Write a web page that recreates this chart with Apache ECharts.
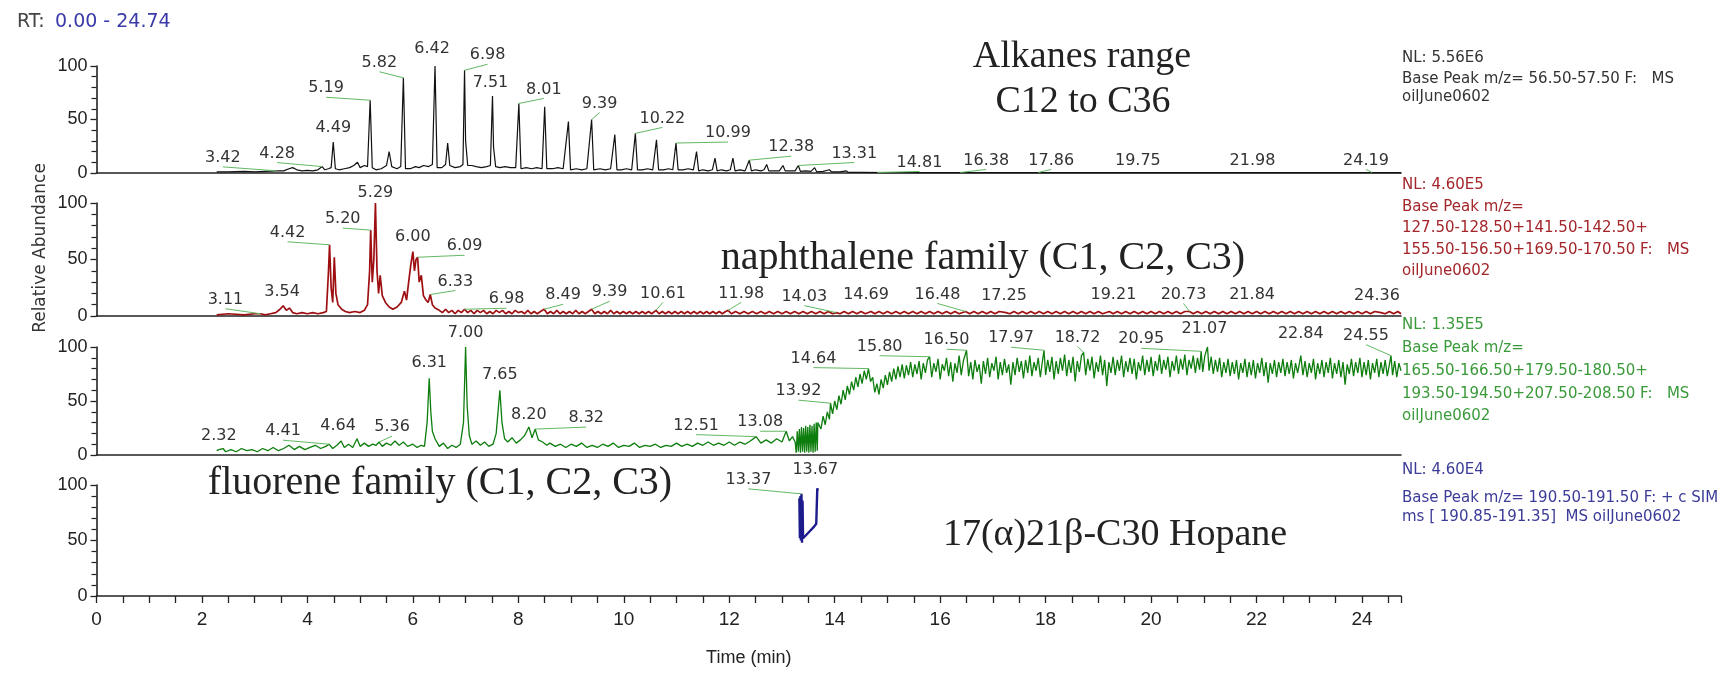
<!DOCTYPE html>
<html><head><meta charset="utf-8">
<script src="https://cdn.jsdelivr.net/npm/echarts@6/dist/echarts.min.js"></script>
<style>html,body{margin:0;padding:0;background:#fff}#c{width:1731px;height:676px}</style>
</head><body><div id="c"></div><script>
// ---------------- DATA ----------------
const timeRange = [0, 24.74];

const alkaneTrace = [[2.28,1],[2.5,1],[2.8,1.5],[3.0,1],[3.2,1.5],[3.42,2],[3.55,2],[3.65,4],[3.72,5],[3.8,3],[3.9,2],[4.0,2.5],[4.1,2],[4.2,3],[4.28,6],[4.33,3],[4.4,4],[4.45,5],[4.49,29],[4.53,4],[4.6,3],[4.7,4],[4.8,5],[4.88,7],[4.95,10],[5.0,5],[5.08,7],[5.14,6],[5.19,68],[5.23,5],[5.3,3],[5.4,4],[5.5,7],[5.55,20],[5.6,6],[5.7,4],[5.77,6],[5.82,89],[5.86,4],[5.95,4],[6.05,6],[6.12,5],[6.2,7],[6.3,6],[6.37,8],[6.42,100],[6.46,5],[6.55,5],[6.62,8],[6.66,28],[6.7,7],[6.8,5],[6.9,6],[6.95,8],[6.98,96],[7.0,30],[7.04,7],[7.12,7],[7.2,6],[7.3,5],[7.4,6],[7.47,7],[7.51,72],[7.53,24],[7.57,6],[7.65,5],[7.75,6],[7.85,5],[7.95,5],[8.01,65],[8.05,4],[8.15,5],[8.25,4],[8.35,5],[8.45,4],[8.50,62],[8.54,4],[8.65,4],[8.75,5],[8.85,4],[8.95,48],[8.99,3],[9.1,4],[9.2,3],[9.3,4],[9.39,50],[9.43,3],[9.55,4],[9.65,3],[9.75,4],[9.83,36],[9.87,3],[9.95,3],[10.05,4],[10.15,3],[10.22,37],[10.26,3],[10.35,3],[10.45,4],[10.55,3],[10.62,31],[10.66,3],[10.75,3],[10.85,4],[10.93,3],[10.99,28],[11.03,3],[11.12,3],[11.22,4],[11.32,3],[11.38,20],[11.42,2],[11.5,3],[11.6,2],[11.68,3],[11.73,14],[11.77,2],[11.85,3],[11.95,2],[12.02,3],[12.07,14],[12.11,2],[12.2,3],[12.3,2],[12.38,12],[12.42,2],[12.5,3],[12.6,2],[12.66,3],[12.71,8],[12.75,2],[12.85,2],[12.95,2],[13.02,7],[13.06,2],[13.15,2],[13.25,2],[13.31,7],[13.35,1.5],[13.45,2],[13.55,1.5],[13.62,5],[13.66,1],[13.78,1.5],[13.9,3],[13.94,1],[14.1,1],[14.22,2],[14.26,0.5],[14.5,0.5],[15.0,0.3],[24.74,0.3]];

const naphthaleneTrace = [[2.28,1],[2.5,2],[2.8,1],[3.0,2],[3.11,2],[3.2,1],[3.3,2],[3.4,3],[3.48,6],[3.54,9],[3.6,5],[3.66,7],[3.72,3],[3.8,2],[3.9,3],[4.0,2],[4.1,3],[4.2,2],[4.3,3],[4.36,4],[4.40,40],[4.42,63],[4.45,25],[4.48,12],[4.51,52],[4.54,20],[4.58,10],[4.65,6],[4.72,4],[4.8,3],[4.9,4],[5.0,3],[5.08,5],[5.14,10],[5.18,40],[5.20,76],[5.23,30],[5.26,50],[5.29,100],[5.32,40],[5.35,20],[5.38,36],[5.42,18],[5.48,12],[5.55,8],[5.62,6],[5.7,8],[5.78,12],[5.84,22],[5.88,14],[5.92,30],[5.96,45],[6.00,57],[6.03,40],[6.06,50],[6.09,52],[6.12,30],[6.16,36],[6.20,18],[6.25,14],[6.29,12],[6.33,19],[6.37,10],[6.42,7],[6.5,5],[6.56,3],[6.62,6],[6.68,3],[6.74,5],[6.8,2],[6.86,5],[6.92,3],[6.98,6],[7.04,3],[7.1,5],[7.16,2],[7.22,5],[7.28,3],[7.34,5],[7.4,2],[7.46,4],[7.52,2],[7.58,5],[7.64,3],[7.7,5],[7.76,2],[7.82,4],[7.88,2],[7.94,5],[8.0,3],[8.06,4],[8.12,2],[8.18,5],[8.24,2],[8.3,4],[8.36,2],[8.42,4],[8.49,6],[8.55,2],[8.61,4],[8.67,2],[8.73,5],[8.79,2],[8.85,4],[8.91,2],[8.97,4],[9.03,2],[9.09,5],[9.15,2],[9.21,4],[9.27,2],[9.33,4],[9.39,6],[9.45,2],[9.51,4],[9.57,2],[9.63,4],[9.69,2],[9.75,5],[9.81,2],[9.87,4],[9.93,2],[9.99,4],[10.05,2],[10.11,4],[10.17,2],[10.23,4],[10.29,2],[10.35,4],[10.41,2],[10.47,4],[10.53,2],[10.61,5],[10.67,2],[10.73,4],[10.79,2],[10.85,4],[10.91,2],[10.97,4],[11.03,2],[11.09,4],[11.15,2],[11.21,4],[11.27,2],[11.33,4],[11.39,2],[11.45,4],[11.51,2],[11.57,4],[11.63,2],[11.69,4],[11.75,2],[11.81,4],[11.87,2],[11.93,4],[11.98,5],[12.04,2],[12.12,4],[12.2,2],[12.28,4],[12.36,2],[12.44,4],[12.52,2],[12.6,4],[12.68,2],[12.76,4],[12.84,2],[12.92,4],[13.0,2],[13.08,4],[13.16,2],[13.24,4],[13.32,2],[13.4,4],[13.48,2],[13.56,4],[13.64,2],[13.72,4],[13.8,2],[13.88,4],[13.96,2],[14.03,3],[14.1,2],[14.18,4],[14.26,2],[14.34,4],[14.42,2],[14.5,4],[14.58,2],[14.69,4],[14.76,2],[14.84,4],[14.92,2],[15.0,4],[15.08,2],[15.16,4],[15.24,2],[15.32,4],[15.4,2],[15.48,4],[15.56,2],[15.64,4],[15.72,2],[15.8,4],[15.88,2],[15.96,4],[16.04,2],[16.12,4],[16.2,2],[16.28,4],[16.36,2],[16.48,4],[16.56,2],[16.64,4],[16.72,2],[16.8,4],[16.88,2],[16.96,4],[17.04,2],[17.12,4],[17.25,3],[17.32,2],[17.4,4],[17.48,2],[17.56,4],[17.64,2],[17.72,4],[17.8,2],[17.88,4],[17.96,2],[18.04,4],[18.12,2],[18.2,4],[18.28,2],[18.36,4],[18.44,2],[18.52,4],[18.6,2],[18.68,4],[18.76,2],[18.84,4],[18.92,2],[19.0,4],[19.08,2],[19.21,4],[19.28,2],[19.36,4],[19.44,2],[19.52,4],[19.6,2],[19.68,4],[19.76,2],[19.84,4],[19.92,2],[20.0,4],[20.08,2],[20.16,4],[20.24,2],[20.32,4],[20.4,2],[20.48,4],[20.56,2],[20.64,4],[20.73,4],[20.8,2],[20.88,4],[20.96,2],[21.04,4],[21.12,2],[21.2,4],[21.28,2],[21.36,4],[21.44,2],[21.52,4],[21.6,2],[21.68,4],[21.76,2],[21.84,4],[21.92,2],[22.0,4],[22.08,2],[22.16,4],[22.24,2],[22.32,4],[22.4,2],[22.48,4],[22.56,2],[22.64,4],[22.72,2],[22.8,4],[22.88,2],[22.96,4],[23.04,2],[23.12,4],[23.2,2],[23.28,4],[23.36,2],[23.44,4],[23.52,2],[23.6,4],[23.68,2],[23.76,4],[23.84,2],[23.92,4],[24.0,2],[24.08,4],[24.16,2],[24.24,4],[24.36,3],[24.44,2],[24.52,4],[24.6,2],[24.68,4],[24.74,2]];

const fluoreneTrace = [[2.28,4],[2.32,5],[2.4,6],[2.45,3],[2.55,5],[2.65,3],[2.75,6],[2.85,4],[2.95,5],[3.05,3],[3.15,6],[3.25,4],[3.35,7],[3.45,4],[3.55,6],[3.65,9],[3.75,5],[3.85,8],[3.95,5],[4.05,7],[4.15,9],[4.25,6],[4.35,8],[4.41,10],[4.48,6],[4.56,9],[4.64,13],[4.70,7],[4.78,10],[4.86,7],[4.94,15],[5.00,8],[5.08,11],[5.16,8],[5.24,10],[5.30,9],[5.36,12],[5.42,8],[5.50,11],[5.58,9],[5.66,13],[5.74,9],[5.82,12],[5.90,8],[6.00,10],[6.08,7],[6.16,9],[6.22,8],[6.27,30],[6.31,71],[6.34,40],[6.37,22],[6.42,15],[6.50,8],[6.58,11],[6.66,6],[6.74,9],[6.82,7],[6.90,10],[6.96,30],[7.00,100],[7.03,45],[7.07,18],[7.12,10],[7.20,13],[7.28,9],[7.36,12],[7.44,8],[7.52,10],[7.58,20],[7.65,60],[7.69,30],[7.74,15],[7.80,12],[7.88,16],[7.96,11],[8.04,14],[8.12,18],[8.20,26],[8.26,16],[8.32,24],[8.38,14],[8.46,12],[8.54,9],[8.6,11],[8.7,8],[8.8,10],[8.9,7],[9.0,10],[9.1,8],[9.2,11],[9.3,7],[9.4,9],[9.5,7],[9.6,10],[9.7,8],[9.8,11],[9.9,7],[10.0,9],[10.1,8],[10.2,11],[10.3,7],[10.4,9],[10.5,8],[10.6,10],[10.7,7],[10.8,9],[10.9,8],[11.0,11],[11.1,8],[11.2,10],[11.3,8],[11.4,11],[11.5,9],[11.6,12],[11.7,9],[11.8,11],[11.9,9],[12.0,12],[12.1,9],[12.2,12],[12.3,10],[12.4,13],[12.51,17],[12.6,11],[12.7,14],[12.8,11],[12.9,15],[13.0,12],[13.08,22],[13.14,13],[13.2,17],[13.25,12],[13.27,2],[13.29,22],[13.31,3],[13.33,24],[13.35,2],[13.37,26],[13.39,3],[13.41,25],[13.43,2],[13.45,27],[13.47,3],[13.49,26],[13.51,2],[13.53,28],[13.55,3],[13.57,27],[13.59,2],[13.61,29],[13.63,3],[13.65,30],[13.67,4],[13.68,30],[13.70,30],[13.74,24],[13.78,36],[13.82,28],[13.86,40],[13.90,33],[13.92,48],[13.96,38],[14.00,50],[14.04,42],[14.08,55],[14.12,47],[14.16,60],[14.20,51],[14.24,64],[14.28,56],[14.32,68],[14.36,60],[14.40,72],[14.44,63],[14.48,75],[14.52,66],[14.56,78],[14.60,70],[14.64,80],[14.68,68],[14.72,72],[14.76,58],[14.80,66],[14.84,56],[14.88,70],[14.92,62],[14.96,74],[15.00,65],[15.04,77],[15.08,68],[15.12,80],[15.16,70],[15.20,82],[15.24,72],[15.28,84],[15.32,71],[15.36,83],[15.40,74],[15.44,86],[15.48,72],[15.52,84],[15.56,75],[15.60,87],[15.64,70],[15.68,85],[15.72,76],[15.76,88],[15.80,91],[15.84,72],[15.88,85],[15.92,77],[15.96,89],[16.00,70],[16.04,84],[16.08,78],[16.12,90],[16.16,73],[16.20,86],[16.24,68],[16.28,85],[16.32,76],[16.36,92],[16.40,74],[16.44,87],[16.50,97],[16.54,73],[16.58,86],[16.62,70],[16.66,88],[16.70,77],[16.74,84],[16.78,66],[16.82,87],[16.86,75],[16.90,90],[16.94,72],[16.98,85],[17.02,78],[17.06,91],[17.10,70],[17.14,86],[17.18,74],[17.22,89],[17.26,76],[17.30,84],[17.34,65],[17.38,86],[17.42,74],[17.46,90],[17.50,77],[17.54,87],[17.58,71],[17.62,88],[17.66,76],[17.70,92],[17.74,73],[17.78,86],[17.82,78],[17.86,90],[17.90,72],[17.94,87],[17.97,97],[18.00,74],[18.04,88],[18.08,77],[18.12,91],[18.16,70],[18.20,87],[18.24,75],[18.28,90],[18.32,78],[18.36,93],[18.40,73],[18.44,88],[18.48,76],[18.52,91],[18.56,68],[18.60,87],[18.64,77],[18.68,92],[18.72,95],[18.76,74],[18.80,89],[18.84,78],[18.88,91],[18.92,71],[18.96,86],[19.00,77],[19.04,92],[19.08,74],[19.12,88],[19.16,64],[19.20,86],[19.24,76],[19.28,91],[19.32,74],[19.36,88],[19.40,78],[19.44,92],[19.48,72],[19.52,87],[19.56,77],[19.60,90],[19.64,75],[19.68,89],[19.72,70],[19.76,86],[19.80,78],[19.84,92],[19.88,74],[19.92,88],[19.96,77],[20.00,91],[20.04,73],[20.08,87],[20.12,78],[20.16,93],[20.20,75],[20.24,88],[20.28,79],[20.32,91],[20.36,72],[20.40,87],[20.44,78],[20.48,92],[20.52,75],[20.56,89],[20.60,79],[20.64,93],[20.68,74],[20.72,88],[20.76,80],[20.80,92],[20.84,76],[20.88,90],[20.92,79],[20.95,96],[20.98,77],[21.02,92],[21.07,100],[21.10,78],[21.14,91],[21.18,75],[21.22,88],[21.26,77],[21.30,90],[21.34,72],[21.38,86],[21.42,76],[21.46,89],[21.50,73],[21.54,86],[21.58,75],[21.62,88],[21.66,70],[21.70,85],[21.74,76],[21.78,89],[21.82,72],[21.86,86],[21.90,74],[21.94,88],[21.98,71],[22.02,85],[22.06,76],[22.10,90],[22.14,73],[22.18,86],[22.22,67],[22.26,85],[22.30,75],[22.34,88],[22.38,72],[22.42,86],[22.46,76],[22.50,89],[22.54,73],[22.58,86],[22.62,75],[22.66,88],[22.70,71],[22.74,85],[22.78,76],[22.84,92],[22.88,74],[22.92,87],[22.96,72],[23.00,85],[23.04,76],[23.08,89],[23.12,70],[23.16,85],[23.20,75],[23.24,88],[23.28,72],[23.32,86],[23.36,76],[23.40,90],[23.44,71],[23.48,85],[23.52,75],[23.56,88],[23.60,72],[23.64,86],[23.68,65],[23.72,84],[23.76,75],[23.80,89],[23.84,73],[23.88,86],[23.92,76],[23.96,90],[24.00,72],[24.04,86],[24.08,74],[24.12,88],[24.16,70],[24.20,85],[24.24,76],[24.28,89],[24.32,72],[24.36,86],[24.40,75],[24.44,88],[24.48,73],[24.55,92],[24.58,74],[24.62,87],[24.66,72],[24.70,85],[24.74,78]];

const hopaneTrace = [[13.33,88],[13.34,52],[13.35,90],[13.36,50],[13.37,92],[13.38,48],[13.39,86],[13.40,52],[13.50,57],[13.60,62],[13.65,65],[13.67,97],[13.68,95]];

// labelled peaks: [retention time, abundance at label anchor]
const alkanePeaks = [[3.42,2],[4.28,6],[4.49,29],[5.19,68],[5.82,89],[6.42,100],[6.98,96],[7.51,72],[8.01,65],[9.39,50],[10.22,37],[10.99,28],[12.38,12],[13.31,7],[14.81,0.5],[16.38,0.5],[17.86,0.5],[19.75,0.5],[21.98,0.5],[24.19,0.5]];
const naphthalenePeaks = [[3.11,2],[3.54,9],[4.42,63],[5.20,76],[5.29,100],[6.00,57],[6.09,52],[6.33,19],[6.98,6],[8.49,6],[9.39,6],[10.61,5],[11.98,5],[14.03,3],[14.69,4],[16.48,4],[17.25,3],[19.21,4],[20.73,4],[21.84,4],[24.36,3]];
const fluorenePeaks = [[2.32,5],[4.41,10],[4.64,13],[5.36,12],[6.31,71],[7.00,100],[7.65,60],[8.20,26],[8.32,24],[12.51,17],[13.08,22],[13.92,48],[14.64,80],[15.80,91],[16.50,97],[17.97,97],[18.72,95],[20.95,96],[21.07,100],[22.84,92],[24.55,92]];
const hopanePeaks = [[13.37,92],[13.67,97]];

const yTicks = [0, 50, 100];

const panelNotes = [
  ['NL: 5.56E6','Base Peak m/z= 56.50-57.50 F:   MS','oilJune0602'],
  ['NL: 4.60E5','Base Peak m/z=','127.50-128.50+141.50-142.50+','155.50-156.50+169.50-170.50 F:   MS','oilJune0602'],
  ['NL: 1.35E5','Base Peak m/z=','165.50-166.50+179.50-180.50+','193.50-194.50+207.50-208.50 F:   MS','oilJune0602'],
  ['NL: 4.60E4','Base Peak m/z= 190.50-191.50 F: + c SIM','ms [ 190.85-191.35]  MS oilJune0602']
];

// ---------------- LAYOUT (pixel offsets of peak labels from their peak) ----------------
const alkaneLabelOffsets = [[-54,-13],[-45,-13],[0,-14],[-44,-12],[-24,-15],[-3,-17],[23,-15],[-2,-13],[25,-14],[8,-16],[27,-15],[52,-10],[42,-13],[56,-12],[42,-10],[26,-12],[13,-12],[0,-12],[-3,-12],[-6,-12]];
const naphthaleneLabelOffsets = [[-35,-14],[-1,-14],[-42,-12],[-28,-11],[0,-10],[0,-15],[47,-11],[25,-13],[42,-10],[19,-14],[18,-17],[7,-17],[13,-17],[-32,-16],[-5,-17],[-28,-17],[-2,-17],[4,-17],[-6,-17],[4,-17],[-4,-17]];
const fluoreneLabelOffsets = [[0,-14],[-46,-13],[-3,-15],[13,-15],[0,-15],[0,-14],[0,-15],[0,-12],[51,-11],[-60,-11],[-26,-9],[-32,-12],[-55,-10],[-50,-10],[-20,-10],[-33,-12],[-6,-15],[-60,-12],[-3,-18],[0,-22],[-25,-20]];
const hopaneLabelOffsets = [[-53,-14],[-2,-18]];

const grids = [
  {top:66, height:107},
  {top:203, height:113},
  {top:347, height:108},
  {top:485, height:111}
];
const LEFT = 96.5, WIDTH = 1304.5;
const traceColors = ['#111111','#9e0f12','#0d7d0d','#1c1c8c'];
const noteColors = ['#333333','#a3262a','#3a9a3a','#3b3b98'];

// ---------------- CHART ----------------
const chart = echarts.init(document.getElementById('c'), null, {renderer:'canvas'});

function labelRenderer(offsets) {
  return function (params, api) {
    const i = params.dataIndex;
    const t = api.value(0), v = api.value(1);
    const p = api.coord([t, v]);
    const off = offsets[i];
    const cx = p[0] + off[0], cy = p[1] + off[1];
    const txt = t.toFixed(2);
    const children = [];
    if (Math.abs(off[0]) >= 6) {
      children.push({type:'line', shape:{x1:cx, y1:cy + 9, x2:p[0], y2:p[1]},
        style:{stroke:'#62b862', lineWidth:1}});
    }
    children.push({type:'text', x:cx, y:cy, style:{text:txt, fill:'#333', font:'16px "DejaVu Sans"',
      align:'center', verticalAlign:'middle', textAlign:'center', textVerticalAlign:'middle'}});
    return {type:'group', children};
  };
}

const traces = [alkaneTrace, naphthaleneTrace, fluoreneTrace, hopaneTrace];
const peaks = [alkanePeaks, naphthalenePeaks, fluorenePeaks, hopanePeaks];
const offsets = [alkaneLabelOffsets, naphthaleneLabelOffsets, fluoreneLabelOffsets, hopaneLabelOffsets];
const widths = [1.2, 1.7, 1.3, 2.4];

const gridOpt = grids.map(g => ({left:LEFT, width:WIDTH, top:g.top, height:g.height, containLabel:false}));
const xAxes = grids.map((g, i) => {
  const last = i === grids.length - 1;
  return {
    type:'value', gridIndex:i, min:timeRange[0], max:timeRange[1],
    interval: last ? 0.5 : 2,
    axisLine:{show:true, lineStyle:{color:'#222', width:1.6}},
    axisTick:{show:last, length:7, lineStyle:{color:'#222', width:1.3}},
    axisLabel:{show:last, interval:0, margin:14, color:'#222', fontFamily:'Liberation Sans', fontSize:19,
      formatter: v => (Math.abs(v/2 - Math.round(v/2)) < 1e-6 ? String(Math.round(v)) : '')},
    splitLine:{show:false},
    name: last ? 'Time (min)' : '', nameLocation:'middle', nameGap:53,
    nameTextStyle:{color:'#222', fontFamily:'Liberation Sans', fontSize:18}
  };
});
const yAxes = grids.map((g, i) => ({
  type:'value', gridIndex:i, min:yTicks[0], max:yTicks[yTicks.length-1], interval:yTicks[1]-yTicks[0],
  axisLine:{show:true, lineStyle:{color:'#222', width:1.6}},
  axisTick:{show:true, length:6, lineStyle:{color:'#222', width:1.3}},
  minorTick:{show:true, splitNumber:5, length:5, lineStyle:{color:'#222', width:1.2}},
  axisLabel:{color:'#222', fontFamily:'Liberation Sans', fontSize:18, margin:9},
  splitLine:{show:false}, minorSplitLine:{show:false}
}));

const series = [];
traces.forEach((tr, i) => {
  series.push({type:'line', xAxisIndex:i, yAxisIndex:i, data:tr, showSymbol:false, symbol:'none',
    lineStyle:{color:traceColors[i], width:widths[i]}, animation:false, z:3, clip:false});
});
peaks.forEach((pk, i) => {
  series.push({type:'custom', xAxisIndex:i, yAxisIndex:i, data:pk, renderItem:labelRenderer(offsets[i]),
    animation:false, z:5, clip:false});
});

const graphics = [];
graphics.push({type:'text', x:17, y:22, style:{text:'RT:', fill:'#444', font:'19px "DejaVu Sans"', textVerticalAlign:'middle', verticalAlign:'middle'}});
graphics.push({type:'text', x:55, y:22, style:{text:'0.00 - 24.74', fill:'#3a3aa8', font:'19px "DejaVu Sans"', textVerticalAlign:'middle', verticalAlign:'middle'}});
graphics.push({type:'text', x:41, y:248, rotation:Math.PI/2, style:{text:'Relative Abundance', fill:'#333', font:'17px "DejaVu Sans"', align:'center', verticalAlign:'middle', textAlign:'center', textVerticalAlign:'middle'}});

const noteY = [[58,79,97],[185,207,228,250,271],[325,348,371,394,416],[470,498,517]];
panelNotes.forEach((lines, i) => {
  lines.forEach((s, j) => {
    graphics.push({type:'text', x:1402, y:noteY[i][j], style:{text:s, fill:noteColors[i], font:'15px "DejaVu Sans"', textVerticalAlign:'middle', verticalAlign:'middle'}});
  });
});

const bigFont = '"Liberation Serif"';
const bigTexts = [
  ['Alkanes range', 1082, 57, 38],
  ['C12 to C36', 1083, 102, 38],
  ['naphthalene family (C1, C2, C3)', 983, 258, 40],
  ['fluorene family (C1, C2, C3)', 440, 483, 40],
  ['17(\u03b1)21\u03b2-C30 Hopane', 1115, 535, 38]
];
bigTexts.forEach(b => {
  graphics.push({type:'text', x:b[1], y:b[2], style:{text:b[0], fill:'#222', font:b[3] + 'px ' + bigFont, align:'center', verticalAlign:'middle', textAlign:'center', textVerticalAlign:'middle'}});
});

chart.setOption({
  animation:false,
  backgroundColor:'#fff',
  grid:gridOpt, xAxis:xAxes, yAxis:yAxes, series:series, graphic:graphics
});
</script></body></html>
